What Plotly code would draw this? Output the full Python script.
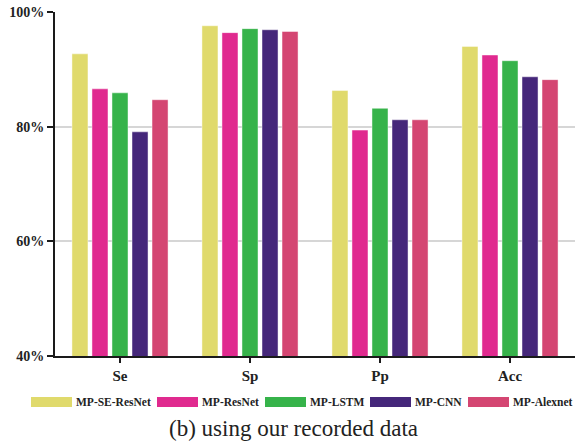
import plotly.graph_objects as go

categories = ["Se", "Sp", "Pp", "Acc"]
models = ["MP-SE-ResNet", "MP-ResNet", "MP-LSTM", "MP-CNN", "MP-Alexnet"]
se_resnet = [92.7, 97.6, 86.3, 94.0]
resnet = [86.6, 96.4, 79.4, 92.5]
lstm = [85.9, 97.1, 83.2, 91.5]
cnn = [79.1, 96.9, 81.2, 88.7]
alexnet = [84.7, 96.6, 81.2, 88.2]
series = [se_resnet, resnet, lstm, cnn, alexnet]
colors = ["#e0da6c", "#e02a8f", "#36b34a", "#45277a", "#d44672"]
y_ticks = [40, 60, 80, 100]
y_tick_text = ["40%", "60%", "80%", "100%"]
caption = "(b) using our recorded data"

fig = go.Figure()
for name, vals, col in zip(models, series, colors):
    fig.add_trace(go.Bar(
        x=categories, y=vals, name=name,
        marker=dict(color=col, line=dict(color="rgba(255,255,255,0.45)", width=1)),
        showlegend=False,
    ))

serif = "Liberation Serif"

fig.update_layout(
    width=581, height=443,
    margin=dict(l=55, r=6, t=12, b=87),
    plot_bgcolor="white", paper_bgcolor="white",
    barmode="group", bargap=0.23, bargroupgap=0.2,
    font=dict(family=serif, color="#222"),
)
fig.update_yaxes(
    range=[40, 100], tickmode="array", tickvals=y_ticks, ticktext=y_tick_text,
    showgrid=True, gridcolor="#d6d6d6", gridwidth=2,
    showline=True, linecolor="#1a1a1a", linewidth=2,
    ticks="outside", ticklen=6, tickwidth=2, tickcolor="#1a1a1a",
    tickfont=dict(family=serif, size=14, color="#222", weight="bold"),
    zeroline=False,
)
fig.update_xaxes(
    showline=True, linecolor="#1a1a1a", linewidth=2,
    ticks="outside", ticklen=5, tickwidth=2, tickcolor="#1a1a1a",
    tickfont=dict(family=serif, size=15, color="#222", weight="bold"),
)

# custom legend with wide swatches
sw_x = [31, 157, 265, 370, 468]
W, H = 581, 443
pl, pr, pt, pb = 55, 6, 12, 87
pw, ph = W - pl - pr, H - pt - pb
def px(x):
    return (x - pl) / pw
def py(y):
    return (H - pb - y) / ph
for xs, name, col in zip(sw_x, models, colors):
    fig.add_shape(type="rect", xref="paper", yref="paper",
                  x0=px(xs), x1=px(xs + 41), y0=py(407), y1=py(397),
                  fillcolor=col, line=dict(width=0))
    fig.add_annotation(xref="paper", yref="paper", x=px(xs + 43), y=py(402),
                       text=name, showarrow=False, xanchor="left", yanchor="middle",
                       font=dict(family=serif, size=11.5, color="#222", weight="bold"))

fig.add_annotation(xref="paper", yref="paper", x=px(293), y=py(428),
                   text=caption, showarrow=False, xanchor="center", yanchor="middle",
                   font=dict(family=serif, size=23, color="#222"))

fig.write_html("out.html")
